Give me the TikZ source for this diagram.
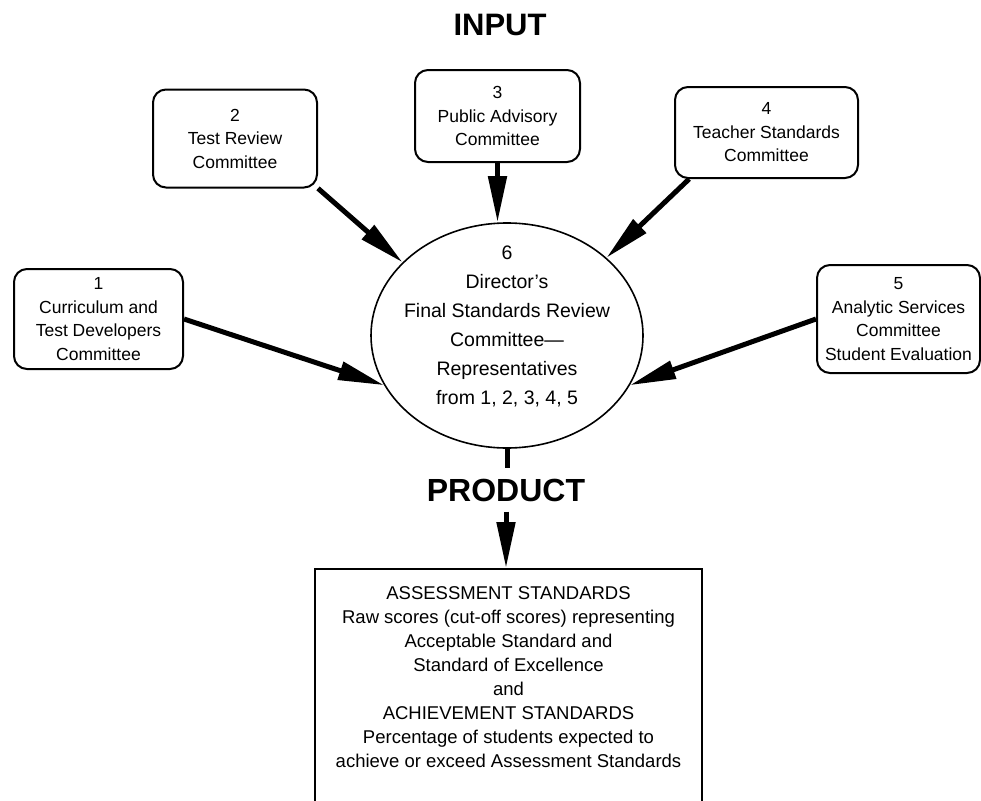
\documentclass[tikz,border=0pt]{standalone}
\usepackage{fontspec}
\setmainfont{Liberation Sans}
\usetikzlibrary{arrows.meta,shapes.geometric}

\tikzset{
  committee/.style={draw=black, line width=2pt, rounded corners=13pt, align=center, inner sep=0pt, font=\fontsize{17.5}{23.5}\selectfont},
  flow/.style={line width=5pt, -{Triangle[length=46pt,width=18pt]}},
  heading/.style={font=\fontsize{31}{31}\selectfont\bfseries, inner sep=10pt}
}

\begin{document}
\begin{tikzpicture}[x=1pt,y=-1pt]
\useasboundingbox (0,0) rectangle (981,800);
\clip (0,0) rectangle (981,800);
\node[heading] (input) at (500,25) {INPUT};
\node[committee, minimum width=169pt, minimum height=100pt] (1) at (98.5,319) {1\\Curriculum and\\Test Developers\\Committee};
\node[committee, minimum width=164pt, minimum height=98pt] (2) at (235,138.5) {2\\Test Review\\Committee};
\node[committee, minimum width=165pt, minimum height=92pt] (3) at (497.5,116) {3\\Public Advisory\\Committee};
\node[committee, minimum width=183pt, minimum height=91pt] (4) at (766.5,132.5) {4\\Teacher Standards\\Committee};
\node[committee, minimum width=163pt, minimum height=108pt] (5) at (898.5,319) {5\\Analytic Services\\Committee\\Student Evaluation};
\node[ellipse, draw, line width=1.6pt, minimum width=272pt, minimum height=225pt, inner xsep=-10pt, inner ysep=-12pt, align=center, text depth=20pt, font=\fontsize{19.5}{29}\selectfont] (6) at (507,335.5) {6\\Director's\\Final Standards Review\\Committee---\\Representatives\\from 1, 2, 3, 4, 5};
\node[heading, font=\fontsize{32}{32}\selectfont\bfseries] (product) at (506,490) {PRODUCT};
\node[draw, line width=2pt, anchor=north, minimum width=387pt, inner xsep=0pt, inner ysep=18pt, align=center, text depth=60pt, font=\fontsize{18.5}{24}\selectfont] (standards) at (508.5,568) {ASSESSMENT STANDARDS\\Raw scores (cut-off scores) representing\\Acceptable Standard and\\Standard of Excellence\\and\\ACHIEVEMENT STANDARDS\\Percentage of students expected to\\achieve or exceed Assessment Standards};
% arrows into the director's committee
\draw[flow] (1.east) to (6.202);
\draw[flow] (2.-31) to (6.145);
\draw[flow] (3.south) to (3.south |- 6.north);
\draw[flow] (4.211) to (6.38);
\draw[flow] (5.west) to (6.338);
\draw[line width=5pt] (6.south) to (6.south |- product.north);
\draw[flow] (product.south) to (product.south |- standards.north);
\end{tikzpicture}
\end{document}
